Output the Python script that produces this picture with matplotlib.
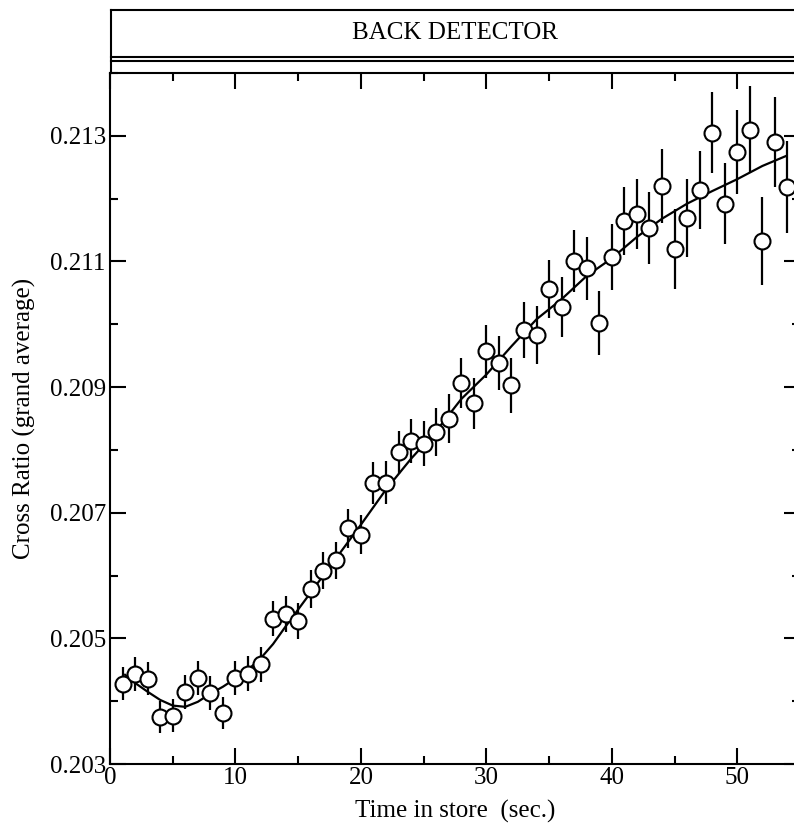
import matplotlib
matplotlib.use("Agg")
import matplotlib.pyplot as plt
from matplotlib.ticker import MultipleLocator, FixedLocator, FormatStrFormatter
from matplotlib.lines import Line2D

plt.rcParams['font.family'] = ['Liberation Serif', 'DejaVu Serif']

# data
time_s = list(range(1, 55))
ratio = [0.20428, 0.20444, 0.20436, 0.20375, 0.20377, 0.20415, 0.20437, 0.20413, 0.20381, 0.20437,
         0.20444, 0.20459, 0.20531, 0.20539, 0.20528, 0.20579, 0.20608, 0.20624, 0.20675, 0.20665,
         0.20747, 0.20748, 0.20796, 0.20814, 0.20810, 0.20828, 0.20850, 0.20906, 0.20874, 0.20957,
         0.20938, 0.20903, 0.20991, 0.20983, 0.21056, 0.21027, 0.21101, 0.21089, 0.21002, 0.21107,
         0.21164, 0.21176, 0.21153, 0.21220, 0.21120, 0.21169, 0.21214, 0.21305, 0.21192, 0.21274,
         0.21310, 0.21133, 0.21290, 0.21219]
ratio_err = [0.00026, 0.00027, 0.00026, 0.00026, 0.00026, 0.00027, 0.00027, 0.00027, 0.00026, 0.00027,
             0.00028, 0.00028, 0.00028, 0.00029, 0.00029, 0.00030, 0.00030, 0.00030, 0.00031, 0.00031,
             0.00033, 0.00034, 0.00034, 0.00035, 0.00036, 0.00038, 0.00039, 0.00040, 0.00041, 0.00042,
             0.00043, 0.00044, 0.00045, 0.00046, 0.00046, 0.00048, 0.00049, 0.00050, 0.00051, 0.00053,
             0.00054, 0.00056, 0.00057, 0.00059, 0.00064, 0.00062, 0.00062, 0.00064, 0.00065, 0.00067,
             0.00069, 0.00070, 0.00071, 0.00073]

# smooth fit curve
fit_t = [1.2, 2, 3, 4, 5, 6, 7, 8, 9, 10, 11, 12, 13, 14, 15, 16, 17, 18, 19, 20,
         22, 24, 26, 28, 30, 32, 34, 36, 38, 40, 42, 44, 46, 48, 50, 52, 53.9]
fit_y = [0.20442, 0.20429, 0.20415, 0.20402, 0.20393, 0.20391, 0.20399, 0.20412, 0.20423, 0.20436,
         0.20450, 0.20468, 0.20491, 0.20519, 0.20546, 0.20573, 0.20600, 0.20627, 0.20654, 0.20681,
         0.20737, 0.20786, 0.20830, 0.20881, 0.20920, 0.20965, 0.21008, 0.21040, 0.21077, 0.21105,
         0.21139, 0.21168, 0.21192, 0.21212, 0.21231, 0.21252, 0.21268]

y_major = [0.203, 0.205, 0.207, 0.209, 0.211, 0.213]
y_minor = [0.204, 0.206, 0.208, 0.210, 0.212, 0.214]

W, H = 794, 827
fig = plt.figure(figsize=(W / 100, H / 100), dpi=100)
ax = fig.add_axes([110 / W, (H - 764) / H, 690 / W, (764 - 73) / H])

ax.plot(fit_t, fit_y, color='black', lw=1.6, zorder=2)
ax.errorbar(time_s, ratio, yerr=ratio_err, fmt='o', ms=11.5, mfc='white', mec='black', mew=1.5,
            ecolor='black', elinewidth=1.6, capsize=0, zorder=3)

ax.set_xlim(0, 55)
ax.set_ylim(0.203, 0.214)
ax.xaxis.set_major_locator(MultipleLocator(10))
ax.xaxis.set_minor_locator(MultipleLocator(5))
ax.yaxis.set_major_locator(FixedLocator(y_major))
ax.yaxis.set_minor_locator(FixedLocator(y_minor))
ax.yaxis.set_major_formatter(FormatStrFormatter('%.3f'))
ax.tick_params(which='both', direction='in', top=True, right=True, width=1.5, labelsize=18)
ax.tick_params(which='major', length=11.5)
ax.tick_params(which='minor', length=5.5)
ax.tick_params(axis='x', pad=2)
ax.tick_params(axis='y', pad=3)
for sp in ax.spines.values():
    sp.set_linewidth(1.5)

ax.set_xlabel('Time in store  (sec.)', fontsize=18, labelpad=8)
ax.set_ylabel('Cross Ratio (grand average)', fontsize=18, labelpad=10)

# title boxes above the axes
def fy(p):
    return (H - p) / H

lx = 110.5 / W
for yy in [9.5, 56.5, 60.5]:
    fig.add_artist(Line2D([lx, 1.02], [fy(yy), fy(yy)], color='black', lw=1.5))
fig.add_artist(Line2D([lx, lx], [fy(9.5), fy(73)], color='black', lw=1.5))
fig.text(455 / W, fy(33), 'BACK DETECTOR', ha='center', va='center', fontsize=18)

fig.savefig('out.png', dpi=100)
